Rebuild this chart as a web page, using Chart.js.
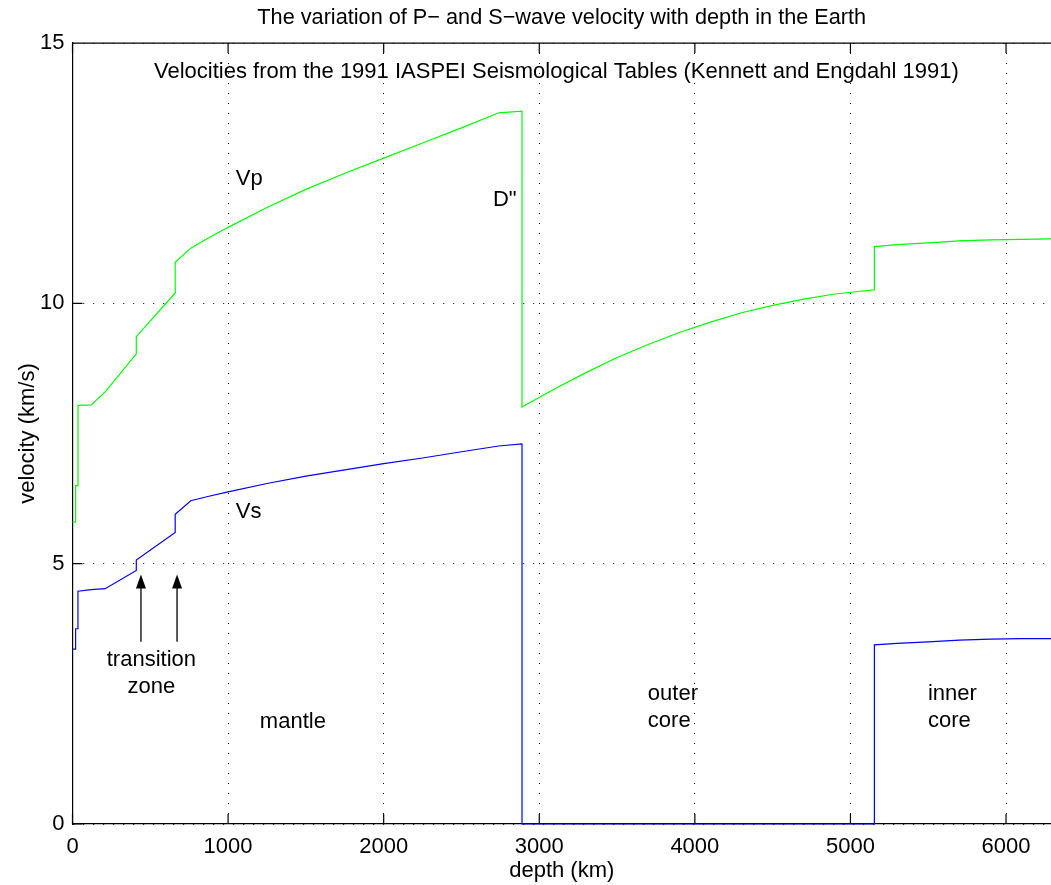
<!DOCTYPE html>
<html>
<head>
<meta charset="utf-8">
<script src="https://cdn.jsdelivr.net/npm/chart.js@4.4.0/dist/chart.umd.min.js"></script>
<style>
  html, body { margin: 0; padding: 0; background: #fff; overflow: hidden; }
</style>
</head>
<body>
<canvas id="velChart" width="1051" height="885"></canvas>
<script>
// iasp91 model: depth (km), P and S velocity (km/s); repeated depths are discontinuities
var depth = [0, 20, 20, 35, 35, 120, 210, 410, 410, 660, 660, 760, 870, 1000, 1250, 1500, 1750, 2000, 2250, 2500, 2740, 2889,
             2889, 3100, 3300, 3500, 3700, 3900, 4100, 4300, 4500, 4700, 4900, 5153.9,
             5153.9, 5300, 5500, 5700, 5900, 6100, 6371];
var vp = [5.80, 5.80, 6.50, 6.50, 8.04, 8.05, 8.30, 9.03, 9.36, 10.20, 10.79, 11.06, 11.25, 11.46, 11.84, 12.19, 12.50, 12.79, 13.08, 13.37, 13.66, 13.69,
          8.01, 8.36, 8.67, 8.96, 9.21, 9.44, 9.64, 9.82, 9.96, 10.08, 10.18, 10.26,
          11.09, 11.13, 11.16, 11.20, 11.22, 11.23, 11.24];
var vs = [3.36, 3.36, 3.75, 3.75, 4.47, 4.50, 4.52, 4.87, 5.07, 5.60, 5.95, 6.21, 6.29, 6.38, 6.54, 6.68, 6.80, 6.92, 7.03, 7.15, 7.26, 7.30,
          0, 0, 0, 0, 0, 0, 0, 0, 0, 0, 0, 0,
          3.44, 3.47, 3.50, 3.53, 3.55, 3.56, 3.56];

var xTicks = [0, 1000, 2000, 3000, 4000, 5000, 6000];
var yTicks = [0, 5, 10, 15];

// text placed in data units (depth, velocity)
var notes = [
  { lines: ['Velocities from the 1991 IASPEI Seismological Tables (Kennett and Engdahl 1991)'], x: 3110, y: 14.45, align: 'center' },
  { lines: ['Vp'], x: 1050, y: 12.39, align: 'left' },
  { lines: ['D"'], x: 2702, y: 11.99, align: 'left' },
  { lines: ['Vs'], x: 1050, y: 6.0, align: 'left' },
  { lines: ['transition', 'zone'], x: 507, y: 3.16, align: 'center' },
  { lines: ['mantle'], x: 1204, y: 1.96, align: 'left' },
  { lines: ['outer', 'core'], x: 3698, y: 2.50, align: 'left' },
  { lines: ['inner', 'core'], x: 5498, y: 2.50, align: 'left' }
];
// arrows pointing up at the 410 and 660 km discontinuities
var arrows = [
  { x: 440, from: 3.50, to: 4.79 },
  { x: 672, from: 3.50, to: 4.79 }
];

var FONT = "'Liberation Sans', Arial, Helvetica, sans-serif";
Chart.defaults.font.family = FONT;
Chart.defaults.font.size = 22;
Chart.defaults.color = '#000';

function toPoints(vals) {
  return vals.map(function (v, i) { return { x: depth[i], y: v }; });
}

function fixedTicks(list) {
  return function (s) {
    s.ticks = list.map(function (v) { return { value: v }; });
  };
}

// box line on top, inward tick marks, labels and arrows
var framePlugin = {
  id: 'frame',
  beforeDatasetsDraw: function (chart) {
    var ctx = chart.ctx, a = chart.chartArea;
    var sx = chart.scales.x, sy = chart.scales.y;
    ctx.save();
    ctx.strokeStyle = '#000';
    ctx.lineWidth = 1.2;
    ctx.beginPath();
    ctx.moveTo(a.left, a.top);
    ctx.lineTo(a.right + 2, a.top);
    xTicks.forEach(function (t) {
      var px = sx.getPixelForValue(t);
      ctx.moveTo(px, a.bottom);
      ctx.lineTo(px, a.bottom - 10);
      ctx.moveTo(px, a.top);
      ctx.lineTo(px, a.top + 10);
    });
    yTicks.forEach(function (t) {
      var py = sy.getPixelForValue(t);
      ctx.moveTo(a.left, py);
      ctx.lineTo(a.left + 10, py);
    });
    ctx.stroke();
    ctx.restore();
  },
  afterDatasetsDraw: function (chart) {
    var ctx = chart.ctx;
    var sx = chart.scales.x, sy = chart.scales.y;
    ctx.save();
    ctx.fillStyle = '#000';
    ctx.font = '22px ' + FONT;
    ctx.textBaseline = 'middle';
    notes.forEach(function (n) {
      ctx.textAlign = n.align;
      var px = sx.getPixelForValue(n.x), py = sy.getPixelForValue(n.y);
      n.lines.forEach(function (s, i) {
        ctx.fillText(s, px, py + i * 27);
      });
    });
    ctx.strokeStyle = '#000';
    ctx.lineWidth = 1.3;
    arrows.forEach(function (ar) {
      var px = sx.getPixelForValue(ar.x);
      var y0 = sy.getPixelForValue(ar.from), y1 = sy.getPixelForValue(ar.to);
      ctx.beginPath();
      ctx.moveTo(px, y0);
      ctx.lineTo(px, y1 + 12);
      ctx.stroke();
      ctx.beginPath();
      ctx.moveTo(px, y1);
      ctx.lineTo(px - 5, y1 + 14);
      ctx.lineTo(px + 5, y1 + 14);
      ctx.closePath();
      ctx.fill();
    });
    ctx.restore();
  }
};

var chart = new Chart(document.getElementById('velChart'), {
  type: 'scatter',
  data: {
    datasets: [
      { label: 'Vp', data: toPoints(vp), showLine: true, borderColor: '#00ff00', borderWidth: 1.2, pointRadius: 0, tension: 0, clip: 3 },
      { label: 'Vs', data: toPoints(vs), showLine: true, borderColor: '#0000ff', borderWidth: 1.2, pointRadius: 0, tension: 0, clip: 3 }
    ]
  },
  options: {
    responsive: false,
    animation: false,
    devicePixelRatio: 1,
    layout: { padding: 0 },
    plugins: {
      legend: { display: false },
      tooltip: { enabled: false },
      title: {
        display: true,
        fullSize: false,
        text: 'The variation of P\u2212 and S\u2212wave velocity with depth in the Earth',
        font: { size: 21.7, weight: 'normal' },
        color: '#000',
        padding: { top: 5, bottom: 12 }
      }
    },
    scales: {
      x: {
        type: 'linear',
        position: 'bottom',
        min: 0,
        max: 6289,
        afterBuildTicks: fixedTicks(xTicks),
        afterFit: function (s) { s.height = 61; },
        ticks: {
          maxRotation: 0,
          autoSkip: false,
          padding: 10,
          callback: function (v) { return String(v); }
        },
        grid: { color: '#000', lineWidth: 1, drawTicks: false },
        border: { display: true, color: '#000', width: 1.2, dash: [1, 9] },
        title: { display: true, text: 'depth (km)', padding: { top: 0, bottom: 1 } }
      },
      y: {
        type: 'linear',
        min: 0,
        max: 15,
        afterBuildTicks: fixedTicks(yTicks),
        afterFit: function (s) { s.width = 72.5; },
        ticks: { padding: 8 },
        grid: { color: '#000', lineWidth: 1, drawTicks: false },
        border: { display: true, color: '#000', width: 1.2, dash: [1, 9] },
        title: { display: true, text: 'velocity (km/s)', padding: { top: 15, bottom: 0 } }
      }
    }
  },
  plugins: [framePlugin]
});
</script>
</body>
</html>
